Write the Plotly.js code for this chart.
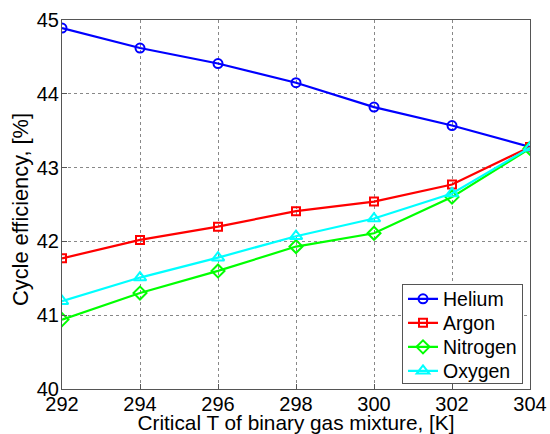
<!DOCTYPE html>
<html><head><meta charset="utf-8">
<script src="https://cdn.plot.ly/plotly-3.0.1.min.js"></script>
<style>html,body{margin:0;padding:0;background:#fff}</style>
</head><body><div id="chart" style="width:550px;height:434px"></div>
<script>
const temps = [292, 294, 296, 298, 300, 302, 304];
const helium = [44.89, 44.62, 44.41, 44.15, 43.82, 43.57, 43.28];
const argon = [41.77, 42.02, 42.20, 42.41, 42.54, 42.77, 43.28];
const nitrogen = [40.94, 41.30, 41.60, 41.93, 42.11, 42.60, 43.26];
const oxygen = [41.19, 41.51, 41.78, 42.07, 42.31, 42.65, 43.27];
const xTicks = [292, 294, 296, 298, 300, 302, 304];
const yTicks = [40, 41, 42, 43, 44, 45];

function tr(name, y, color, symbol, size) {
  return {x: temps, y: y, name: name, type: 'scatter', mode: 'lines+markers',
    line: {color: color, width: 2.2},
    marker: {symbol: symbol, size: size, color: color, line: {color: color, width: 2}}};
}
const data = [
  tr('Helium', helium, '#0000ff', 'circle-open', 9),
  tr('Argon', argon, '#ff0000', 'square-open', 8),
  tr('Nitrogen', nitrogen, '#00ff00', 'diamond-open', 10),
  tr('Oxygen', oxygen, '#00ffff', 'triangle-up-open', 11)
];
const axisCommon = {
  showline: true, mirror: true, linecolor: '#555', linewidth: 1,
  ticks: 'inside', ticklen: 5, tickcolor: '#555',
  showgrid: true, gridcolor: '#888', griddash: 'dot', gridwidth: 1,
  zeroline: false, tickfont: {size: 20, color: '#000'}
};
const layout = {
  width: 550, height: 434,
  margin: {l: 62, r: 20, t: 20, b: 45},
  paper_bgcolor: '#fff', plot_bgcolor: '#fff',
  font: {family: 'Liberation Sans, Arial, sans-serif', color: '#000'},
  xaxis: Object.assign({}, axisCommon, {range: [292, 304], tickvals: xTicks, ticklabelstandoff: -3,
    title: {text: 'Critical T of binary gas mixture, [K]', font: {size: 20.8}, standoff: 2}}),
  yaxis: Object.assign({}, axisCommon, {range: [40, 45], tickvals: yTicks, ticklabelstandoff: -2,
    title: {text: 'Cycle efficiency, [%]', font: {size: 21.8}, standoff: 2}}),
  showlegend: true,
  legend: {x: 0.7265, y: 0.285, xanchor: 'left', yanchor: 'top',
    bgcolor: '#fff', bordercolor: '#555', borderwidth: 1,
    font: {size: 19.5, color: '#000'}, tracegroupgap: 0, itemwidth: 30}
};
Plotly.newPlot('chart', data, layout, {displayModeBar: false, staticPlot: true}).then(function (gd) {
  // tighten legend row spacing to match the reference box
  const rows = [15, 39, 63, 87];
  gd.querySelectorAll('.legend .traces').forEach(function (el, i) {
    const m = /translate\(([^,]+),/.exec(el.getAttribute('transform') || '');
    const x = m ? m[1] : 1;
    el.setAttribute('transform', 'translate(' + x + ',' + rows[i] + ')');
  });
  const bg = gd.querySelector('.legend .bg');
  if (bg) bg.setAttribute('height', 99);
  // the reference y title sits slightly below the axis centre
  const yt = gd.querySelector('.ytitle');
  if (yt) {
    const x = parseFloat(yt.getAttribute('x'));
    const y = parseFloat(yt.getAttribute('y')) + 5;
    yt.setAttribute('y', y);
    yt.setAttribute('transform', 'rotate(-90,' + x + ',' + y + ')');
  }
});
</script></body></html>
